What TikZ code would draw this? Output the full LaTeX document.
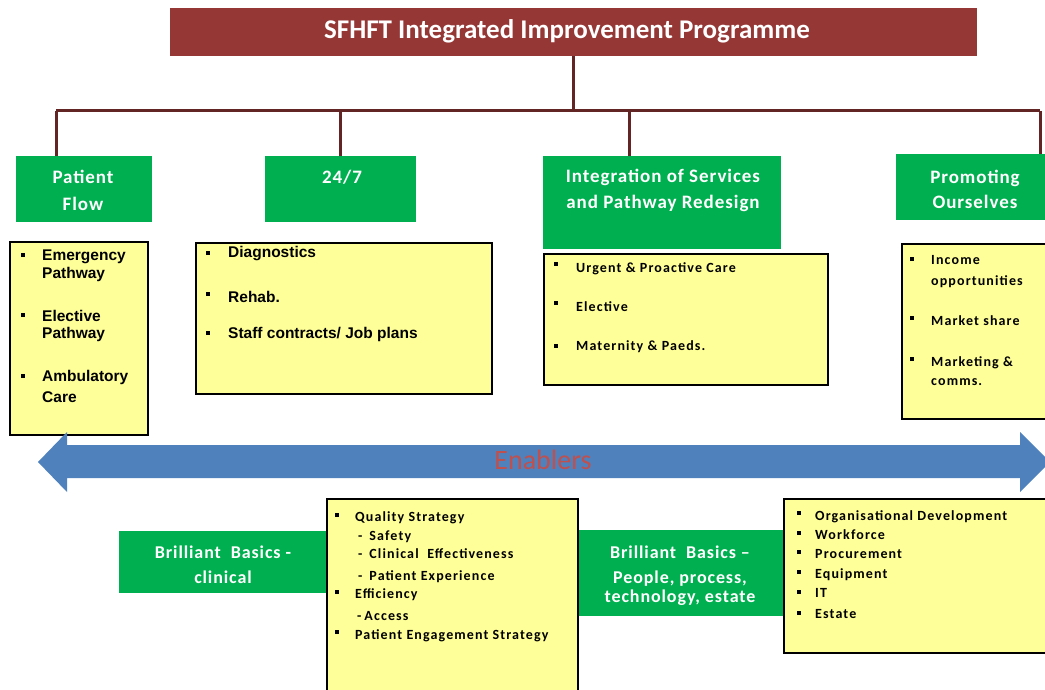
\documentclass[tikz,border=0pt]{standalone}
\usepackage{fontspec}
\setmainfont{Carlito}
\newfontfamily\arialf{Liberation Sans}
\newfontfamily\calsp[LetterSpace=5]{Carlito}
\newfontfamily\calbsp[LetterSpace=8]{Carlito}
\definecolor{titlered}{HTML}{953735}
\definecolor{connc}{HTML}{632523}
\definecolor{grn}{HTML}{00B050}
\definecolor{yel}{HTML}{FFFF99}
\definecolor{arrblue}{HTML}{4F81BD}
\definecolor{enab}{HTML}{C0504D}
\tikzset{
  ybox/.style={draw=black, line width=1.5pt, fill=yel, anchor=north west, inner sep=0pt},
  gbox/.style={fill=grn, anchor=north west, inner sep=0pt},
  gtxt/.style={text=white, font=\calsp\bfseries\fontsize{19}{25}\selectfont, anchor=base, inner sep=0pt},
  btxt/.style={text=white, font=\calsp\bfseries\fontsize{18}{24}\selectfont, anchor=base, inner sep=0pt},
  ta/.style={font=\arialf\bfseries\fontsize{15.5}{18}\selectfont, anchor=base west, inner sep=0pt},
  tc/.style={font=\calbsp\bfseries\fontsize{14}{17}\selectfont, anchor=base west, inner sep=0pt},
  te/.style={font=\calbsp\bfseries\fontsize{14}{16}\selectfont, anchor=base west, inner sep=0pt},
  bul/.style={fill=black, minimum size=3.5pt, inner sep=0pt},
  conn/.style={draw=connc, line width=3pt},
}
\begin{document}
\begin{tikzpicture}[x=1pt, y=-1pt]
\useasboundingbox (0,0) rectangle (1045,690);
\clip (0,0) rectangle (1045,690);
% title
\node[fill=titlered, anchor=north west, minimum width=807pt, minimum height=48pt, inner sep=0pt] (title) at (170,8) {};
\node[text=white, font=\bfseries\fontsize{27}{32}\selectfont, anchor=base, inner sep=0pt] (titletxt) at (567,39) {SFHFT Integrated Improvement Programme};
% green headers
\node[gbox, minimum width=136pt, minimum height=66pt] (pf) at (16,156) {};
\node[gbox, minimum width=151pt, minimum height=66pt] (tf) at (265,156) {};
\node[gbox, minimum width=238pt, minimum height=93pt] (integ) at (543,156) {};
\node[gbox, minimum width=160pt, minimum height=66pt] (promo) at (896,154) {};
\node[gtxt] (pf1) at (83,184) {Patient};
\node[gtxt] (pf2) at (83,211) {Flow};
\node[gtxt] (tf1) at (342,184) {24/7};
\node[gtxt] (in1) at (663,183) {Integration of Services};
\node[gtxt] (in2) at (663,208) {and Pathway Redesign};
\node[gtxt] (pr1) at (975,184) {Promoting};
\node[gtxt] (pr2) at (975,208) {Ourselves};
% connectors
\coordinate (hub) at (573,111);
\coordinate (b1) at (56,111);
\coordinate (b2) at (340,111);
\coordinate (b3) at (629,111);
\coordinate (b4) at (1040,111);
\draw[conn] (title.south -| hub) -- (hub);
\draw[conn] (b1) -- (b4);
\draw[conn] (b1) -- (b1 |- pf.north);
\draw[conn] (b2) -- (b2 |- tf.north);
\draw[conn] (b3) -- (b3 |- integ.north);
\draw[conn] (b4) -- (b4 |- promo.north);
% yellow boxes top row
\node[ybox, minimum width=138pt, minimum height=193pt] (ya) at (9,241) {};
\node[ybox, minimum width=296pt, minimum height=151pt] (yb) at (195,242) {};
\node[ybox, minimum width=284pt, minimum height=131pt] (yc) at (543,253) {};
\node[ybox, minimum width=160pt, minimum height=175pt] (yd) at (901,243) {};
% box A
\foreach \y [count=\i] in {255,315,376} \node[bul] (ab\i) at (23,\y) {};
\foreach \y/\t [count=\i] in {260/Emergency,278/Pathway,321/Elective,338/Pathway,381/Ambulatory,402/Care}
  \node[ta] (at\i) at (42,\y) {\t};
% box B
\foreach \y [count=\i] in {253,294,333} \node[bul] (bb\i) at (208,\y) {};
\node[ta] (bt1) at (228,258) {Diagnostics};
\node[ta] (bt2) at (228,302) {Rehab.};
\node[ta] (bt3) at (228,338) {Staff contracts/ Job plans};
% box C
\foreach \y [count=\i] in {264,303,346} \node[bul] (cb\i) at (556,\y) {};
\foreach \y/\t [count=\i] in {272/Urgent \& Proactive Care,311/Elective,350/Maternity \& Paeds.}
  \node[tc] (ct\i) at (576,\y) {\t};
% box D
\foreach \y [count=\i] in {259,318,359} \node[bul] (db\i) at (912,\y) {};
\foreach \y/\t [count=\i] in {265/Income,285/opportunities,325/Market share,366/Marketing \&,385/comms.}
  \node[tc] (dt\i) at (931,\y) {\t};
% enablers arrow
\fill[arrblue] (38,462) -- (67,432) -- (67,445) -- (1020,445) -- (1020,432) -- (1050,462)
  -- (1020,492) -- (1020,478) -- (67,478) -- (67,492) -- cycle;
\node[text=enab, font=\fontsize{28}{32}\selectfont, inner sep=0pt] (enabl) at (543,460) {Enablers};
% bottom green
\node[gbox, minimum width=207pt, minimum height=62pt] (bg1) at (119,531) {};
\node[gbox, minimum width=206pt, minimum height=86pt] (bg2) at (577,530) {};
\node[btxt] (g11) at (223,558) {Brilliant\ \ Basics -};
\node[btxt] (g12) at (223,583) {clinical};
\node[btxt] (g21) at (680,558) {Brilliant\ \ Basics –};
\node[btxt] (g22) at (680,583) {People, process,};
\node[btxt] (g23) at (680,602) {technology, estate};
% bottom yellow
\node[ybox, minimum width=251pt, minimum height=210pt] (ye) at (326,498) {};
\node[ybox, minimum width=280pt, minimum height=154pt] (yf) at (783,498) {};
% box E
\foreach \y [count=\i] in {515,592,632} \node[bul] (eb\i) at (337,\y) {};
\foreach \y/\t [count=\i] in {521/Quality Strategy,598/Efficiency,639/Patient Engagement Strategy}
  \node[te] (et\i) at (355,\y) {\t};
\foreach \y/\t [count=\i] in {540/Safety,558/Clinical\ \ Effectiveness,580/Patient Experience}
  \node[te] (es\i) at (358,\y) {-\hspace{7pt}\t};
\node[te] (es4) at (357,620) {-\hspace{3pt}Access};
% box F
\foreach \y [count=\i] in {513,533,552,572,592,613} \node[bul] (fb\i) at (799,\y) {};
\foreach \y/\t [count=\i] in {520/Organisational Development,539/Workforce,558/Procurement,578/Equipment,597/IT,618/Estate}
  \node[te] (ft\i) at (815,\y) {\t};
\end{tikzpicture}
\end{document}
